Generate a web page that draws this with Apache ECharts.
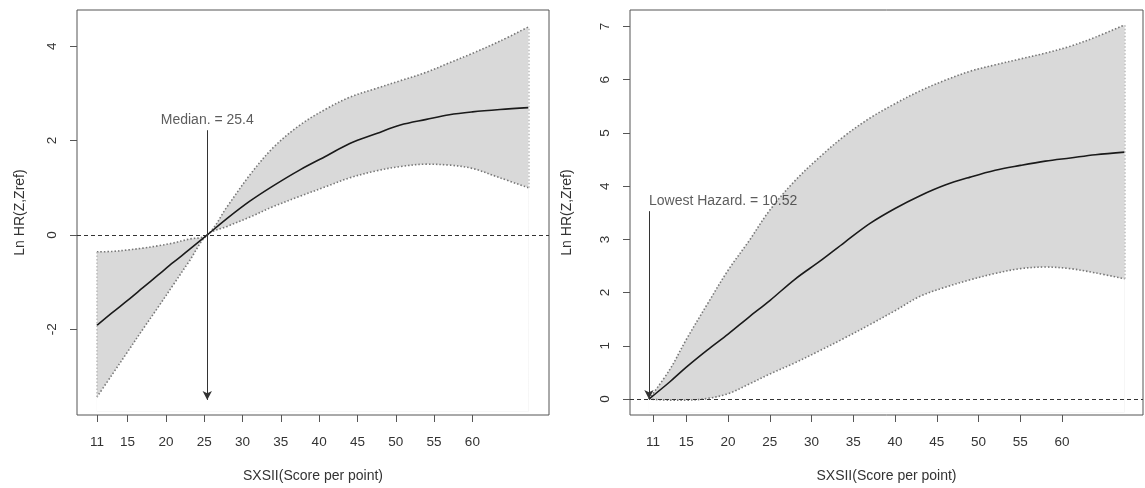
<!DOCTYPE html>
<html><head><meta charset="utf-8">
<script src="https://cdn.jsdelivr.net/npm/echarts@6/dist/echarts.min.js"></script>
<style>html,body{margin:0;padding:0;background:#fff}#c{width:1145px;height:488px}</style>
</head><body><div id="c"></div>
<script>
// ---- data ----
const xTickValues = [11, 15, 20, 25, 30, 35, 40, 45, 50, 55, 60];
const leftYTicks = [-2, 0, 2, 4];
const rightYTicks = [0, 1, 2, 3, 4, 5, 6, 7];

const leftX     = [11, 13, 15, 17, 19, 21, 23, 25.4, 28, 31, 34, 37.5, 41, 44, 47.5, 50.6, 54, 57, 60, 63.6, 67.3];
const leftMain  = [-1.92, -1.65, -1.39, -1.12, -0.85, -0.58, -0.32, 0, 0.35, 0.72, 1.04, 1.38, 1.68, 1.94, 2.15, 2.33, 2.45, 2.55, 2.61, 2.66, 2.70];
const leftUpper = [-0.36, -0.35, -0.32, -0.28, -0.23, -0.17, -0.09, 0, 0.6, 1.28, 1.85, 2.33, 2.68, 2.92, 3.11, 3.27, 3.45, 3.65, 3.85, 4.11, 4.41];
const leftLower = [-3.44, -2.96, -2.48, -2.0, -1.53, -1.05, -0.57, 0, 0.18, 0.38, 0.6, 0.82, 1.03, 1.21, 1.36, 1.45, 1.50, 1.48, 1.41, 1.21, 1.00];

const rightX     = [10.52, 13, 15, 17.5, 20, 22.5, 25, 28, 31, 34, 37, 40, 43, 46, 49, 52, 55, 58, 61, 64, 67.5];
const rightMain  = [0, 0.32, 0.60, 0.92, 1.22, 1.54, 1.85, 2.25, 2.59, 2.95, 3.30, 3.58, 3.82, 4.02, 4.17, 4.30, 4.39, 4.47, 4.53, 4.59, 4.64];
const rightUpper = [0, 0.55, 1.12, 1.78, 2.42, 2.97, 3.55, 4.1, 4.55, 4.95, 5.28, 5.55, 5.79, 5.99, 6.16, 6.28, 6.39, 6.5, 6.63, 6.8, 7.03];
const rightLower = [0, -0.02, -0.02, 0.01, 0.1, 0.28, 0.47, 0.68, 0.91, 1.15, 1.40, 1.66, 1.93, 2.1, 2.24, 2.36, 2.45, 2.48, 2.45, 2.37, 2.26];

const medianValue = 25.4, medianTop = 2.22, medianBottom = -3.5;
const lowestValue = 10.52, lowestTop = 3.53, lowestBottom = 0;
const xName = 'SXSII(Score per point)';
const yName = 'Ln HR(Z,Zref)';

// ---- chart ----
const FONT = '"Liberation Sans", Arial, sans-serif';
const TXT = '#333';
const SM = 0.35;
const zip = (a, b) => a.map((v, i) => [v, b[i]]);

function panelSeries(i, xs, main, upper, lower, ann, floor) {
  const n = xs.length - 1;
  const base = { xAxisIndex: i, yAxisIndex: i, symbol: 'none', silent: true, smooth: SM, animation: false };
  return [
    // grey fill under the upper bound
    Object.assign({}, base, { type: 'line', data: zip(xs, upper),
      lineStyle: { opacity: 0 }, areaStyle: { color: '#d9d9d9', opacity: 1, origin: floor }, z: 1 }),
    // white mask under the lower bound
    Object.assign({}, base, { type: 'line', data: zip(xs, lower),
      lineStyle: { opacity: 0 }, areaStyle: { color: '#ffffff', opacity: 1, origin: floor }, z: 2 }),
    Object.assign({}, base, { type: 'line', data: zip(xs, upper),
      lineStyle: { color: '#777', width: 1.6, type: [1.5, 2] }, z: 3,
      markLine: { silent: true, symbol: 'none', animation: false, label: { show: false },
        lineStyle: { color: '#bbb', width: 1.5, type: [1.5, 2] },
        data: [[{ coord: [xs[0], lower[0]] }, { coord: [xs[0], upper[0]] }],
               [{ coord: [xs[n], lower[n]] }, { coord: [xs[n], upper[n]] }]] } }),
    Object.assign({}, base, { type: 'line', data: zip(xs, lower),
      lineStyle: { color: '#777', width: 1.6, type: [1.5, 2] }, z: 3 }),
    Object.assign({}, base, { type: 'line', data: zip(xs, main),
      lineStyle: { color: '#1a1a1a', width: 1.6 }, z: 4,
      markLine: { silent: true, symbol: ['none', 'arrow'], symbolSize: [7, 9], animation: false,
        label: { show: false }, lineStyle: { color: '#333', width: 1, type: 'solid' },
        data: [[{ coord: [ann.x, ann.top] }, { coord: [ann.x, ann.bottom] }]] } }),
    { type: 'scatter', xAxisIndex: i, yAxisIndex: i, silent: true, symbolSize: 0, animation: false,
      data: [[ann.x, ann.top]], z: 5,
      label: { show: true, position: 'top', distance: 3, align: ann.align, formatter: ann.text,
        color: TXT, fontSize: 14, fontFamily: FONT },
      markLine: { silent: true, symbol: 'none', animation: false, label: { show: false },
        lineStyle: { color: '#333', width: 1, type: [4, 3] }, data: [{ yAxis: 0 }] } }
  ];
}

function xAxis(i, min, max) {
  return { type: 'value', gridIndex: i, min, max, name: xName, nameLocation: 'middle', nameGap: 54,
    nameTextStyle: { color: TXT, fontSize: 14, fontFamily: FONT },
    axisLine: { show: false, onZero: false }, splitLine: { show: false },
    axisTick: { show: true, length: 7, customValues: xTickValues, lineStyle: { color: '#555' } },
    axisLabel: { customValues: xTickValues, margin: 20, color: TXT, fontSize: 13.5, fontFamily: FONT } };
}
function yAxis(i, min, max, ticks, gap) {
  return { type: 'value', gridIndex: i, min, max, name: yName, nameLocation: 'middle', nameGap: gap,
    nameTextStyle: { color: TXT, fontSize: 14, fontFamily: FONT },
    axisLine: { show: false, onZero: false }, splitLine: { show: false },
    axisTick: { show: true, length: 7, customValues: ticks, lineStyle: { color: '#555' } },
    axisLabel: { customValues: ticks, rotate: 90, margin: 18, color: TXT, fontSize: 13.5, fontFamily: FONT } };
}

const chart = echarts.init(document.getElementById('c'));
chart.setOption({
  animation: false,
  backgroundColor: '#fff',
  grid: [
    { left: 77, top: 10, width: 472, height: 408, show: true, borderColor: '#555', borderWidth: 1, backgroundColor: 'transparent' },
    { left: 630, top: 10, width: 513, height: 408, show: true, borderColor: '#555', borderWidth: 1, backgroundColor: 'transparent' }
  ],
  xAxis: [xAxis(0, 8.4, 70), xAxis(1, 8.25, 69.7)],
  yAxis: [yAxis(0, -3.82, 4.77, leftYTicks, 50), yAxis(1, -0.3, 7.31, rightYTicks, 56)],
  series: [].concat(
    panelSeries(0, leftX, leftMain, leftUpper, leftLower,
      { x: medianValue, top: medianTop, bottom: medianBottom, text: 'Median. = ' + medianValue, align: 'center' }, -3.75),
    panelSeries(1, rightX, rightMain, rightUpper, rightLower,
      { x: lowestValue, top: lowestTop, bottom: lowestBottom, text: 'Lowest Hazard. = ' + lowestValue, align: 'left' }, -0.25)
  )
});
</script></body></html>
